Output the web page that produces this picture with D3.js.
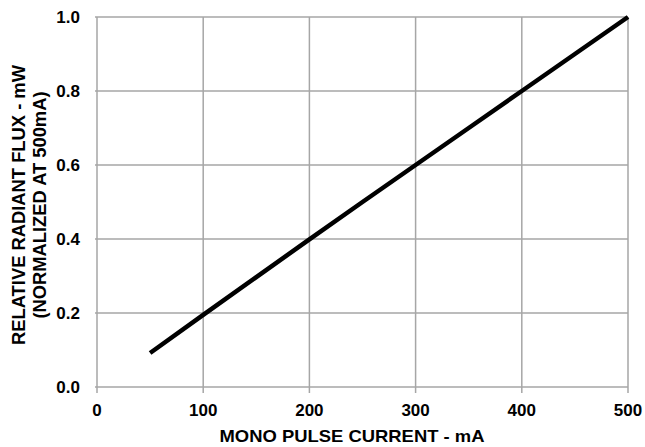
<!DOCTYPE html>
<html>
<head>
<meta charset="utf-8">
<script src="https://cdn.jsdelivr.net/npm/d3@7"></script>
<style>
  body { margin: 0; background: #fff; }
  text { font-family: "Liberation Sans", Arial, sans-serif; font-weight: bold; fill: #000; }
</style>
</head>
<body>
<div id="chart"></div>
<script>
//data
const currentMA = [50, 100, 150, 200, 250, 300, 350, 400, 450, 500];
const relFlux = [0.092, 0.195, 0.297, 0.399, 0.5, 0.6, 0.7, 0.8, 0.9, 1.0];
const xTicks = [0, 100, 200, 300, 400, 500];
const yTicks = [0, 0.2, 0.4, 0.6, 0.8, 1.0];

const W = 645, H = 447;
const margin = { top: 17, right: 17, bottom: 60, left: 97 };
const width = W - margin.left - margin.right;
const height = H - margin.top - margin.bottom;

const svg = d3.select('#chart').append('svg')
    .attr('width', W).attr('height', H);
const g = svg.append('g')
    .attr('transform', `translate(${margin.left},${margin.top})`);

const x = d3.scaleLinear().domain([0, 500]).range([0, width]);
const y = d3.scaleLinear().domain([0, 1]).range([height, 0]);

//grid lines
g.append('g').selectAll('line').data(xTicks).enter().append('line')
    .attr('x1', d => x(d)).attr('x2', d => x(d))
    .attr('y1', 0).attr('y2', height + 6)
    .attr('stroke', '#a6a6a6').attr('stroke-width', 1.5);
g.append('g').selectAll('line').data(yTicks).enter().append('line')
    .attr('x1', -2).attr('x2', width)
    .attr('y1', d => y(d)).attr('y2', d => y(d))
    .attr('stroke', '#a6a6a6').attr('stroke-width', 1.5);

//tick labels
g.append('g').selectAll('text').data(xTicks).enter().append('text')
    .attr('x', d => x(d)).attr('y', height + 29)
    .attr('text-anchor', 'middle')
    .style('font-size', '17px')
    .text(d => d);
g.append('g').selectAll('text').data(yTicks).enter().append('text')
    .attr('x', -17).attr('y', d => y(d))
    .attr('dy', '0.36em')
    .attr('text-anchor', 'end')
    .style('font-size', '17px')
    .text(d => d3.format('.1f')(d));

//the curve
const line = d3.line().x((d, i) => x(currentMA[i])).y(d => y(d));
g.append('path')
    .datum(relFlux)
    .attr('d', line)
    .attr('fill', 'none')
    .attr('stroke', '#000')
    .attr('stroke-width', 4.5);

//axis titles
svg.append('text')
    .attr('x', 352).attr('y', 442)
    .attr('text-anchor', 'middle')
    .style('font-size', '17px')
    .attr('textLength', 265).attr('lengthAdjust', 'spacingAndGlyphs')
    .text('MONO PULSE CURRENT - mA');

const yTitle = svg.append('g').attr('transform', 'translate(0,205) rotate(-90)');
yTitle.append('text')
    .attr('x', 0).attr('y', 25)
    .attr('text-anchor', 'middle')
    .style('font-size', '17.5px')
    .attr('textLength', 280).attr('lengthAdjust', 'spacingAndGlyphs')
    .text('RELATIVE RADIANT FLUX - mW');
yTitle.append('text')
    .attr('x', 0).attr('y', 46)
    .attr('text-anchor', 'middle')
    .style('font-size', '17.5px')
    .attr('textLength', 227).attr('lengthAdjust', 'spacingAndGlyphs')
    .text('(NORMALIZED AT 500mA)');
</script>
</body>
</html>
